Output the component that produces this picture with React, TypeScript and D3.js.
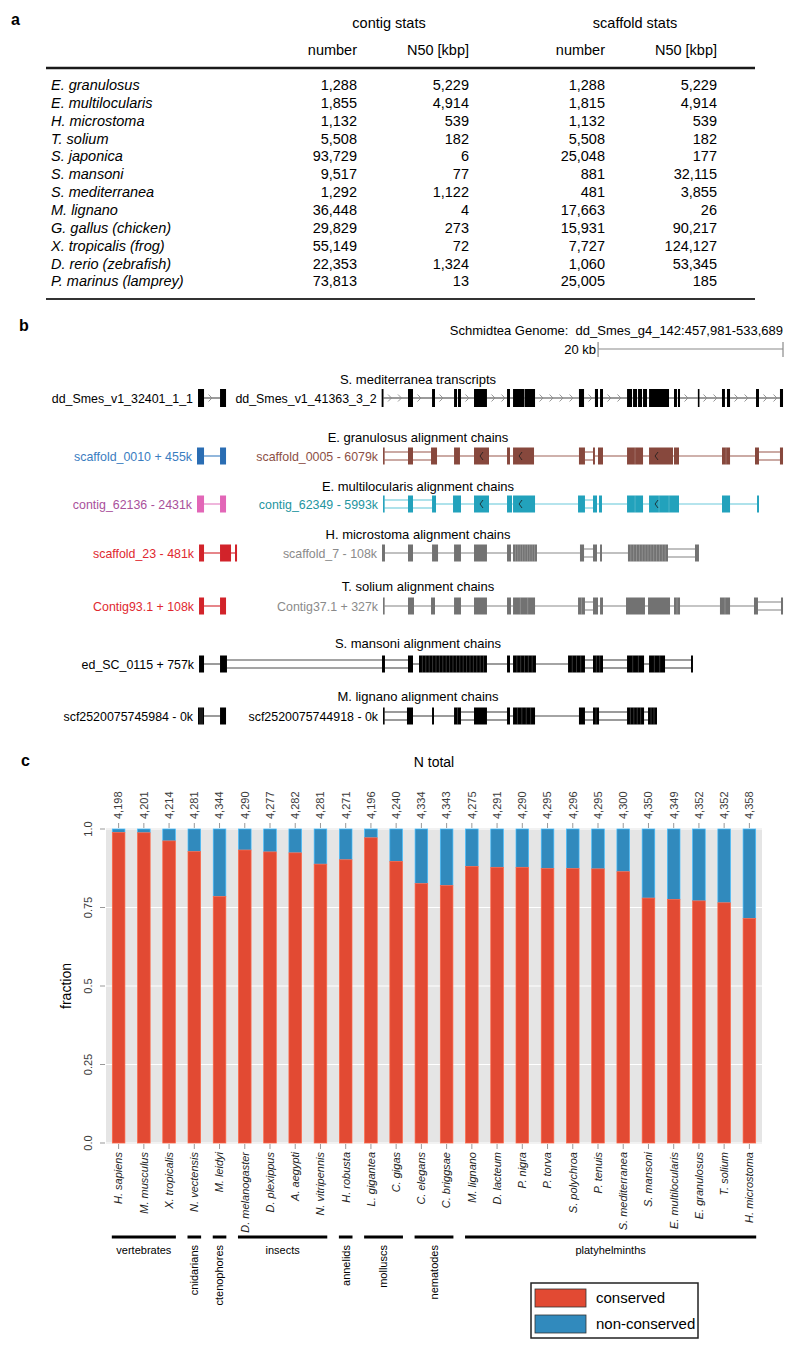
import React from "react";
import * as d3 from "d3";

// ---------- panel a: assembly statistics ----------
const asmSpecies = [
  "E. granulosus", "E. multilocularis", "H. microstoma", "T. solium", "S. japonica",
  "S. mansoni", "S. mediterranea", "M. lignano", "G. gallus (chicken)",
  "X. tropicalis (frog)", "D. rerio (zebrafish)", "P. marinus (lamprey)",
];
const contigNumber = [1288, 1855, 1132, 5508, 93729, 9517, 1292, 36448, 29829, 55149, 22353, 73813];
const contigN50 = [5229, 4914, 539, 182, 6, 77, 1122, 4, 273, 72, 1324, 13];
const scaffoldNumber = [1288, 1815, 1132, 5508, 25048, 881, 481, 17663, 15931, 7727, 1060, 25005];
const scaffoldN50 = [5229, 4914, 539, 182, 177, 32115, 3855, 26, 90217, 124127, 53345, 185];

// ---------- panel b: genome browser window (kb offsets from 457,981) ----------
const windowKb = 75.708;
const scaleBarKb = 20;
const trackTitles = [
  "S. mediterranea transcripts",
  "E. granulosus alignment chains",
  "E. multilocularis alignment chains",
  "H. microstoma alignment chains",
  "T. solium alignment chains",
  "S. mansoni alignment chains",
  "M. lignano alignment chains",
];
// block: [startKb, endKb, subBlocks?, strandArrow?]
type Block = [number, number, number?, number?];
type Feature = { track: number; label: string; tone: string; blocks: Block[]; doubles: number[]; transcript?: boolean };

const features: Feature[] = [
  { track: 0, label: "dd_Smes_v1_32401_1_1", tone: "black", transcript: true, doubles: [],
    blocks: [[12.44, 13.09], [14.82, 15.47]] },
  { track: 0, label: "dd_Smes_v1_41363_3_2", tone: "black", transcript: true, doubles: [],
    blocks: [[32.3, 32.5], [35.15, 35.69], [37.75, 38.07], [40.13, 40.45], [40.56, 40.88], [42.29, 43.69],
      [45.86, 46.18], [46.51, 47.7], [47.75, 48.89], [53.64, 54.19], [55.37, 55.7], [55.92, 56.24],
      [58.84, 59.38], [59.49, 59.92], [60.03, 60.46], [60.57, 61.0], [61.22, 63.38], [63.92, 64.24],
      [64.35, 64.57], [66.5, 66.62], [69.11, 69.43], [69.65, 69.98], [72.79, 73.11], [75.38, 75.71]] },
  { track: 1, label: "scaffold_0010 + 455k", tone: "blue", doubles: [],
    blocks: [[12.33, 13.09], [14.82, 15.47]] },
  { track: 1, label: "scaffold_0005 - 6079k", tone: "brown", doubles: [0, 1, 7, 14],
    blocks: [[32.45, 32.6], [35.15, 35.69], [37.64, 38.29], [40.13, 40.77], [42.29, 43.91, 1, 1], [45.86, 46.18],
      [46.51, 48.78, 1, 1], [53.64, 54.29], [55.16, 55.37], [55.7, 56.24], [58.84, 60.57, 2], [61.22, 63.81, 1, 1],
      [63.92, 64.46], [69.11, 69.98, 2], [72.68, 73.11], [75.38, 75.71]] },
  { track: 2, label: "contig_62136 - 2431k", tone: "pink", doubles: [],
    blocks: [[12.33, 13.09], [14.82, 15.47]] },
  { track: 2, label: "contig_62349 - 5993k", tone: "teal", doubles: [0, 1, 7],
    blocks: [[32.45, 32.6], [35.15, 35.69], [37.75, 38.18], [40.02, 40.88], [42.29, 43.91, 1, 1], [45.86, 46.4],
      [46.51, 48.89, 1, 1], [53.54, 54.29], [55.16, 55.59], [55.81, 56.13], [58.84, 60.57, 2],
      [61.22, 64.46, 3, 1], [69.11, 69.98], [72.9, 73.11]] },
  { track: 3, label: "scaffold_23 - 481k", tone: "red", doubles: [],
    blocks: [[12.55, 13.09], [14.82, 16.01], [16.44, 16.66]] },
  { track: 3, label: "scaffold_7 - 108k", tone: "gray", doubles: [7, 10],
    blocks: [[32.34, 32.66], [35.15, 35.69], [37.75, 38.4], [40.13, 40.88], [42.29, 43.69], [45.86, 46.29],
      [46.51, 49.1, 10], [53.75, 54.19], [55.16, 55.59], [55.92, 56.13], [58.94, 63.27, 14], [66.19, 66.62]] },
  { track: 4, label: "Contig93.1 + 108k", tone: "red", doubles: [],
    blocks: [[12.55, 13.09], [14.82, 15.47]] },
  { track: 4, label: "Contig37.1 + 327k", tone: "gray", doubles: [7, 14],
    blocks: [[32.45, 32.6], [35.15, 35.8], [37.64, 38.07], [40.13, 40.88], [42.29, 43.69], [45.86, 46.29],
      [46.51, 48.89, 3], [53.54, 54.29, 2], [55.16, 55.7], [55.92, 56.24], [58.73, 60.78], [61.11, 63.49],
      [63.92, 64.57, 2], [68.89, 69.98, 2], [72.57, 73.0], [75.49, 75.71]] },
  { track: 5, label: "ed_SC_0115 + 757k", tone: "black", doubles: [1, 2, 7, 8, 10],
    blocks: [[12.55, 13.09], [14.82, 15.57], [32.34, 32.66], [35.15, 35.69], [36.34, 43.69, 20], [45.86, 46.18],
      [46.51, 48.99, 6], [52.46, 54.29, 4], [55.16, 56.24, 3], [58.84, 60.68, 3], [61.22, 62.95, 3], [65.76, 65.97]] },
  { track: 6, label: "scf2520075745984 - 0k", tone: "black", doubles: [],
    blocks: [[12.44, 13.09, 3], [14.82, 15.47]] },
  { track: 6, label: "scf2520075744918 - 0k", tone: "black", doubles: [0, 3, 4, 7, 8, 9],
    blocks: [[32.45, 32.6], [35.04, 35.69], [37.75, 37.96], [40.13, 40.88, 2], [42.29, 43.69], [45.86, 46.18],
      [46.51, 48.89, 5], [53.64, 54.29], [55.16, 55.81, 2], [58.84, 60.68, 5], [61.11, 62.08, 3]] },
];

// ---------- panel c: conserved gene fraction ----------
const taxa = [
  "H. sapiens", "M. musculus", "X. tropicalis", "N. vectensis", "M. leidyi", "D. melanogaster",
  "D. plexippus", "A. aegypti", "N. vitripennis", "H. robusta", "L. gigantea", "C. gigas",
  "C. elegans", "C. briggsae", "M. lignano", "D. lacteum", "P. nigra", "P. torva", "S. polychroa",
  "P. tenuis", "S. mediterranea", "S. mansoni", "E. multilocularis", "E. granulosus", "T. solium",
  "H. microstoma",
];
const nTotal = [4198, 4201, 4214, 4281, 4344, 4290, 4277, 4282, 4281, 4271, 4196, 4240, 4334, 4343,
  4275, 4291, 4290, 4295, 4296, 4295, 4300, 4350, 4349, 4352, 4352, 4358];
const conservedFrac = [0.989, 0.988, 0.962, 0.928, 0.785, 0.933, 0.927, 0.924, 0.888, 0.902, 0.972, 0.897,
  0.826, 0.82, 0.881, 0.878, 0.878, 0.874, 0.874, 0.873, 0.864, 0.78, 0.776, 0.771, 0.765, 0.715];
const groupNames = ["vertebrates", "cnidarians", "ctenophores", "insects", "annelids", "molluscs", "nematodes", "platyhelminths"];
const groupSizes = [3, 1, 1, 4, 1, 2, 2, 12];
const yTicks = [0, 0.25, 0.5, 0.75, 1];
const legendLabels = ["conserved", "non-conserved"];

const sans = "'Liberation Sans', Arial, Helvetica, sans-serif";
const palette: Record<string, { block: string; text: string; line: string }> = {
  black: { block: "#000000", text: "#000000", line: "#4a4a4a" },
  blue: { block: "#2a6db3", text: "#3a7dbf", line: "#3a7dbf" },
  brown: { block: "#87483d", text: "#8c4f45", line: "#a0645a" },
  pink: { block: "#e266b7", text: "#a9509b", line: "#e27ac0" },
  teal: { block: "#22a2bc", text: "#24959f", line: "#6ccadb" },
  red: { block: "#d2232a", text: "#e0282f", line: "#d2232a" },
  gray: { block: "#727272", text: "#8a8a8a", line: "#8c8c8c" },
};
const RED = "#e24a33";
const BLUE = "#318abd";

function PanelA() {
  const fmt = d3.format(",");
  const y = d3.scaleLinear().domain([0, asmSpecies.length - 1]).range([90, 286.4]);
  const cols = [contigNumber, contigN50, scaffoldNumber, scaffoldN50];
  const colRight = [357, 469, 605, 717];
  const heads = ["number", "N50 [kbp]", "number", "N50 [kbp]"];
  return (
    <g fontSize={14.5}>
      <text x={11} y={25} fontWeight="bold" fontSize={16}>a</text>
      <text x={389} y={28} textAnchor="middle">contig stats</text>
      <text x={635} y={28} textAnchor="middle">scaffold stats</text>
      {heads.map((h, i) => (
        <text key={i} x={colRight[i]} y={55} textAnchor="end">{h}</text>
      ))}
      <line x1={46} x2={755} y1={68} y2={68} stroke="#1a1a1a" strokeWidth={2.5} />
      {asmSpecies.map((s, i) => (
        <g key={s}>
          <text x={51} y={y(i)} fontStyle="italic">{s}</text>
          {cols.map((c, j) => (
            <text key={j} x={colRight[j]} y={y(i)} textAnchor="end">{fmt(c[i])}</text>
          ))}
        </g>
      ))}
      <line x1={46} x2={755} y1={299} y2={299} stroke="#333" strokeWidth={2} />
    </g>
  );
}

function PanelB() {
  const x = d3.scaleLinear().domain([0, windowKb]).range([83, 783]);
  const titleY = [384, 442, 491, 539, 591, 648, 701];
  const rowY = [398, 456, 504, 553, 606, 664, 716];
  const bh = 17;
  return (
    <g fontSize={13}>
      <text x={19} y={331} fontWeight="bold" fontSize={16}>b</text>
      <text x={783} y={335} textAnchor="end">{"Schmidtea Genome:\u00a0 dd_Smes_g4_142:457,981-533,689"}</text>
      <text x={x(windowKb - scaleBarKb) - 2} y={354} textAnchor="end">20 kb</text>
      <g stroke="#8a8a8a" strokeWidth={1.2}>
        <line x1={x(windowKb - scaleBarKb)} x2={x(windowKb)} y1={349} y2={349} />
        <line x1={x(windowKb - scaleBarKb)} x2={x(windowKb - scaleBarKb)} y1={342} y2={357} />
        <line x1={x(windowKb)} x2={x(windowKb)} y1={342} y2={357} />
      </g>
      {trackTitles.map((t, i) => (
        <text key={t} x={418} y={titleY[i]} textAnchor="middle">{t}</text>
      ))}
      {features.map((f, fi) => {
        const cy = rowY[f.track];
        const pal = palette[f.tone];
        const els: React.ReactNode[] = [];
        for (let i = 0; i < f.blocks.length - 1; i++) {
          const x1 = x(f.blocks[i][1]);
          const x2 = x(f.blocks[i + 1][0]);
          if (f.doubles.includes(i)) {
            els.push(<line key={`d${i}a`} x1={x1} x2={x2} y1={cy - 4} y2={cy - 4} stroke={pal.line} strokeWidth={1.1} />);
            els.push(<line key={`d${i}b`} x1={x1} x2={x2} y1={cy + 4} y2={cy + 4} stroke={pal.line} strokeWidth={1.1} />);
          } else {
            els.push(<line key={`s${i}`} x1={x1} x2={x2} y1={cy} y2={cy} stroke={pal.line} strokeWidth={1.1} />);
          }
          if (f.transcript) {
            for (let cx = x1 + 7; cx < x2 - 3; cx += 10) {
              els.push(
                <polyline key={`c${i}-${cx}`} points={`${cx - 2.5},${cy - 3.5} ${cx + 1},${cy} ${cx - 2.5},${cy + 3.5}`}
                  fill="none" stroke="#8a8a8a" strokeWidth={0.9} />
              );
            }
          }
        }
        f.blocks.forEach((b, i) => {
          const bx = x(b[0]);
          const bw = Math.max(1.6, x(b[1]) - x(b[0]));
          const h = f.transcript ? 18 : bh;
          els.push(<rect key={`b${i}`} x={bx} y={cy - h / 2} width={bw} height={h} fill={pal.block} />);
          const n = b[2] || 1;
          for (let k = 1; k < n; k++) {
            const sx = bx + (bw * k) / n;
            els.push(<line key={`p${i}-${k}`} x1={sx} x2={sx} y1={cy - h / 2} y2={cy + h / 2} stroke="#fff" strokeOpacity={0.3} strokeWidth={0.7} />);
          }
          if (b[3]) {
            const ax = bx + 6;
            els.push(
              <polyline key={`a${i}`} points={`${ax + 3},${cy - 4} ${ax},${cy} ${ax + 3},${cy + 4}`}
                fill="none" stroke="#1c1c1c" strokeOpacity={0.8} strokeWidth={1} />
            );
          }
        });
        return (
          <g key={fi}>
            <text x={x(f.blocks[0][0]) - 5} y={cy + 4.5} textAnchor="end" fill={pal.text} fontSize={12.4}>{f.label}</text>
            {els}
          </g>
        );
      })}
    </g>
  );
}

function PanelC() {
  const x = d3.scaleBand<string>().domain(taxa).range([106, 762]).paddingInner(0.5).paddingOuter(0.25);
  const y = d3.scaleLinear().domain([0, 1]).range([1143, 829]);
  const fmt = d3.format(",");
  const bw = x.bandwidth();
  const cx = (t: string) => (x(t) as number) + bw / 2;
  const tickFmt = (v: number) => (v === 0 ? "0.0" : v === 1 ? "1.0" : String(v));
  let start = 0;
  const groups = groupNames.map((g, i) => {
    const members = taxa.slice(start, start + groupSizes[i]);
    start += groupSizes[i];
    return { name: g, members };
  });
  return (
    <g>
      <text x={21} y={766} fontWeight="bold" fontSize={16}>c</text>
      <text x={434} y={767} textAnchor="middle" fontSize={14}>N total</text>
      <rect x={106} y={y(1) - 1} width={656} height={y(0) - y(1) + 2} fill="#e5e5e5" />
      {yTicks.map((t) => (
        <line key={t} x1={106} x2={762} y1={y(t)} y2={y(t)} stroke="#fff" strokeWidth={1.1} />
      ))}
      {taxa.map((t, i) => {
        const c = conservedFrac[i];
        return (
          <g key={t}>
            <rect x={x(t)} y={y(1)} width={bw} height={y(c) - y(1)} fill={BLUE}
              stroke={d3.color(BLUE)!.brighter(0.9).toString()} strokeWidth={0.7} />
            <rect x={x(t)} y={y(c)} width={bw} height={y(0) - y(c)} fill={RED}
              stroke={d3.color(RED)!.brighter(0.9).toString()} strokeWidth={0.7} />
            <line x1={cx(t)} x2={cx(t)} y1={y(1) - 6} y2={y(1) - 1} stroke="#999" />
            <text transform={`translate(${cx(t)},${y(1) - 10}) rotate(-90)`} dy="0.35em" fontSize={11} fill="#3a3a3a">
              {fmt(nTotal[i])}
            </text>
            <line x1={cx(t)} x2={cx(t)} y1={y(0) + 1} y2={y(0) + 6} stroke="#999" />
            <text transform={`translate(${cx(t)},${y(0) + 9}) rotate(-90)`} dy="0.35em" textAnchor="end"
              fontSize={11} fontStyle="italic" fill="#222">{t}</text>
          </g>
        );
      })}
      {yTicks.map((t) => (
        <g key={t}>
          <line x1={100} x2={105} y1={y(t)} y2={y(t)} stroke="#999" />
          <text transform={`translate(88,${y(t)}) rotate(-90)`} dy="0.35em" textAnchor="middle" fontSize={11} fill="#3a3a3a">
            {tickFmt(t)}
          </text>
        </g>
      ))}
      <text transform={`translate(66,${(y(0) + y(1)) / 2}) rotate(-90)`} dy="0.35em" textAnchor="middle" fontSize={14}>
        fraction
      </text>
      {groups.map((g) => {
        const x1 = x(g.members[0]) as number;
        const x2 = (x(g.members[g.members.length - 1]) as number) + bw;
        const mid = (x1 + x2) / 2;
        return (
          <g key={g.name}>
            <line x1={x1 - 0.5} x2={x2 + 0.5} y1={1237} y2={1237} stroke="#000" strokeWidth={3} />
            {g.members.length <= 2 ? (
              <text transform={`translate(${mid},1245) rotate(-90)`} dy="0.35em" textAnchor="end" fontSize={11}>{g.name}</text>
            ) : (
              <text x={mid} y={1254} textAnchor="middle" fontSize={11}>{g.name}</text>
            )}
          </g>
        );
      })}
      <rect x={531} y={1283} width={167} height={55} fill="#fff" stroke="#222" strokeWidth={1.5} />
      {legendLabels.map((l, i) => (
        <g key={l}>
          <rect x={535} y={1289 + i * 26} width={51} height={18} fill={i === 0 ? RED : BLUE} stroke="#333" strokeWidth={0.8} />
          <text x={596} y={1303 + i * 26} fontSize={15}>{l}</text>
        </g>
      ))}
    </g>
  );
}

export default function App() {
  return (
    <svg width={800} height={1355} style={{ position: "absolute", left: 0, top: 0, display: "block" }}
      fontFamily={sans} fill="#000">
      <rect width={800} height={1355} fill="#fff" />
      <PanelA />
      <PanelB />
      <PanelC />
    </svg>
  );
}
